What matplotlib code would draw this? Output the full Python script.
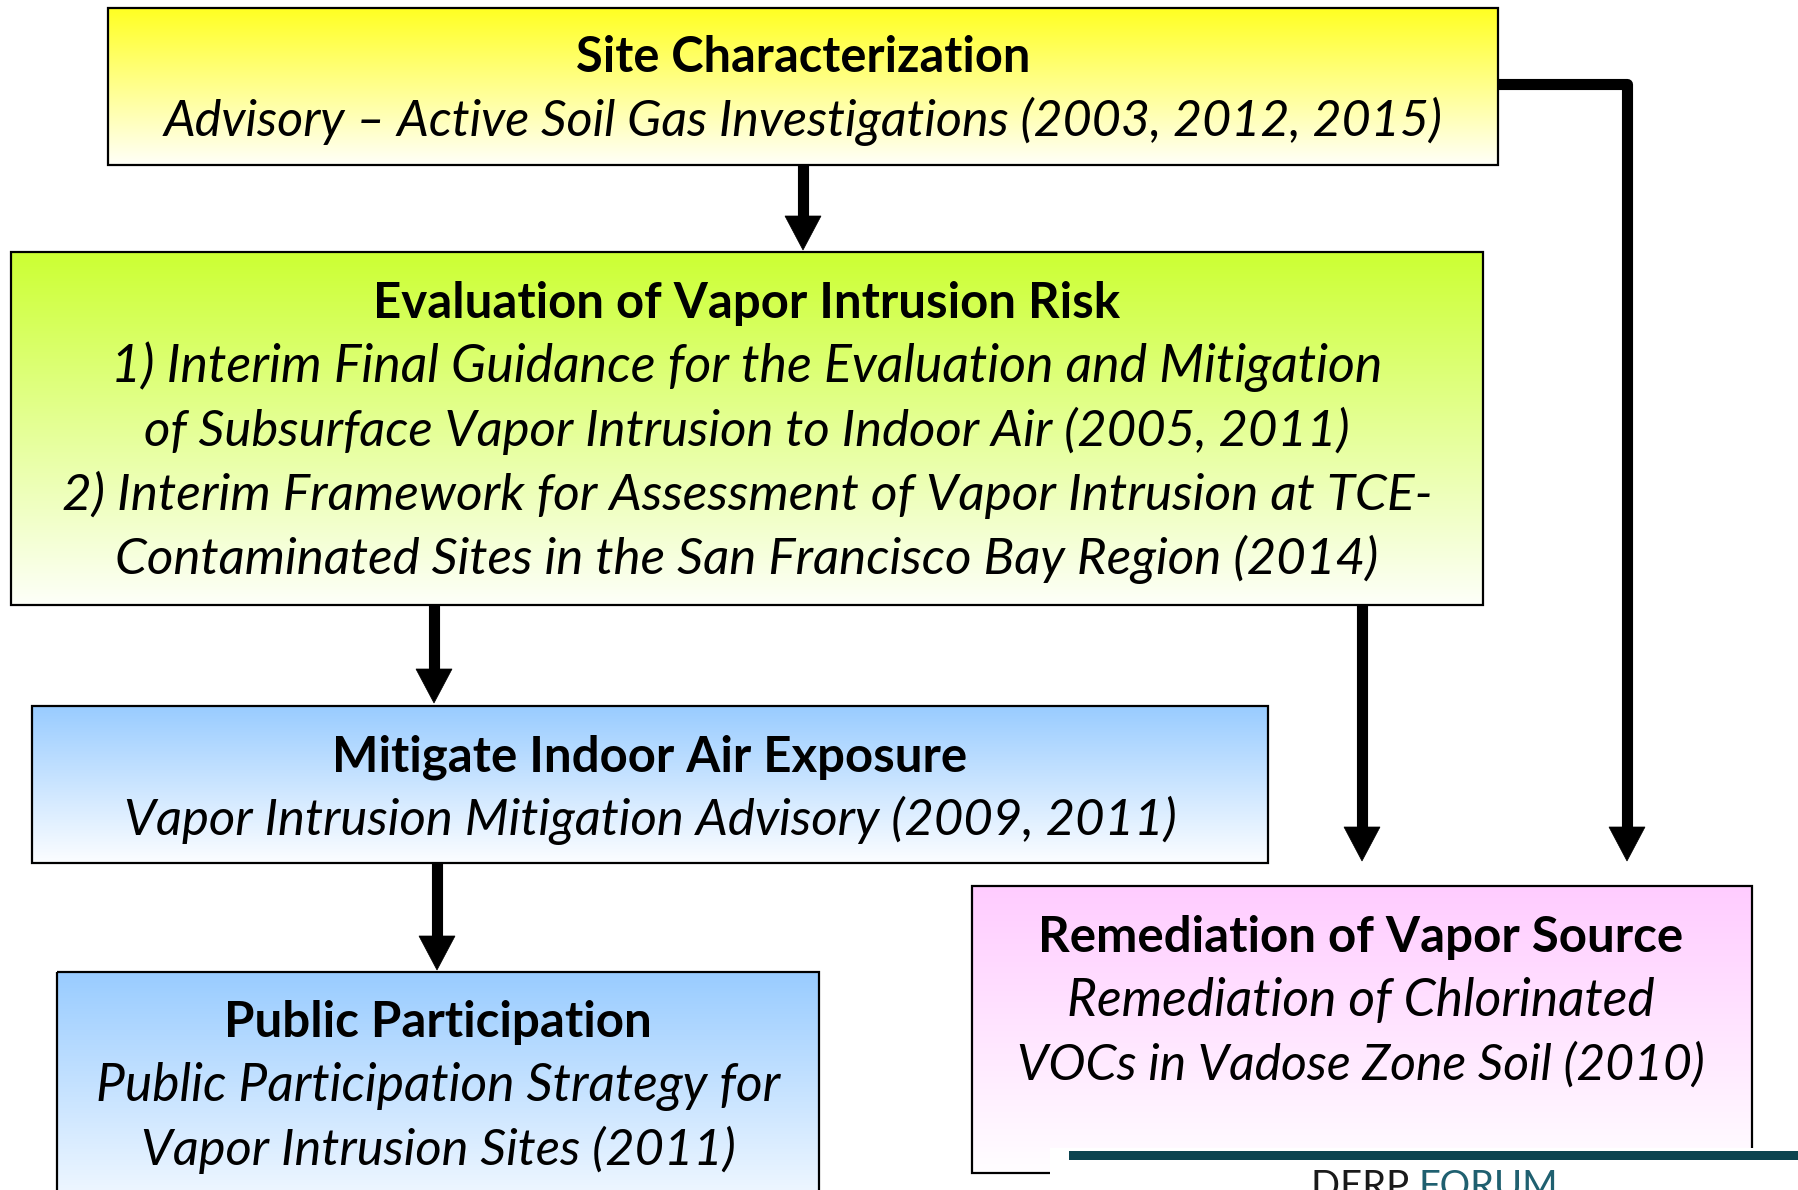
import numpy as np
import matplotlib.pyplot as plt
from matplotlib.patches import Rectangle, Polygon
from matplotlib.colors import to_rgb

W, H = 1799, 1190
FONT = "Lato"

# boxes (pixel layout): left, top, right, bottom
box_left = [108, 11, 32, 57, 972]
box_top = [8, 252, 706, 972, 886]
box_right = [1498, 1483, 1268, 819, 1752]
box_bottom = [165, 605, 863, 1230, 1173]
box_colors = ["#ffff22", "#ccff33", "#99ccff", "#99ccff", "#ffccff"]

titles = ["Site Characterization",
          "Evaluation of Vapor Intrusion Risk",
          "Mitigate Indoor Air Exposure",
          "Public Participation",
          "Remediation of Vapor Source"]
subtitles = [
    ["Advisory – Active Soil Gas Investigations (2003, 2012, 2015)"],
    ["1) Interim Final Guidance for the Evaluation and Mitigation",
     "of Subsurface Vapor Intrusion to Indoor Air (2005, 2011)",
     "2) Interim Framework for Assessment of Vapor Intrusion at TCE-",
     "Contaminated Sites in the San Francisco Bay Region (2014)"],
    ["Vapor Intrusion Mitigation Advisory (2009, 2011)"],
    ["Public Participation Strategy for",
     "Vapor Intrusion Sites (2011)"],
    ["Remediation of Chlorinated",
     "VOCs in Vadose Zone Soil (2010)"],
]
text_cx = [803, 747, 650, 438, 1361]
title_base = [72, 318, 771, 1037, 952]
title_w = [454, 745, 634, 427, 644]
sub_w = [[1279], [1270, 1204, 1369, 1260], [1053], [684, 594], [587, 687]]
line_step = 64

# straight down arrows: x, start y, tip y
arrows = [(803, 165, 250), (434, 605, 703), (1362, 605, 861), (437, 863, 970)]
# elbow arrow path
elbow_x = [1498, 1627, 1627]
elbow_y = [84, 84, 861]

fig = plt.figure(figsize=(W / 100, H / 100), dpi=100)
ax = fig.add_axes([0, 0, 1, 1])
ax.axis("off")

# gradient boxes
t = np.linspace(0, 0.97, 256)[:, None, None]
for l, tp, r, b, c in zip(box_left, box_top, box_right, box_bottom, box_colors):
    rgb = np.array(to_rgb(c))[None, None, :]
    grad = rgb * (1 - t) + t
    ax.imshow(grad, extent=(l, r, b, tp), origin="upper", aspect="auto",
              interpolation="bilinear", zorder=1)
    ax.add_patch(Rectangle((l, tp), r - l, b - tp, fill=False,
                           edgecolor="black", lw=1.6, zorder=2))

# arrows
lw_shaft = 8
hw, hl = 36, 34


def head(x, ytip):
    ax.add_patch(Polygon([(x - hw / 2, ytip - hl), (x + hw / 2, ytip - hl), (x, ytip)],
                         closed=True, facecolor="black", edgecolor="black", lw=0.5, zorder=3))


for x, y0, y1 in arrows:
    ax.plot([x, x], [y0, y1 - hl + 2], color="black", lw=lw_shaft,
            solid_capstyle="butt", zorder=3)
    head(x, y1)

ex = list(elbow_x)
ey = list(elbow_y)
ey[-1] = ey[-1] - hl + 2
ax.plot(ex, ey, color="black", lw=lw_shaft, solid_capstyle="butt",
        solid_joinstyle="round", zorder=3)
head(elbow_x[-1], elbow_y[-1])

ax.set_xlim(0, W)
ax.set_ylim(H, 0)

# text, sized to the reference widths
renderer = fig.canvas.get_renderer()


def fit_text(x, y, s, width, **kw):
    txt = ax.text(x, y, s, ha="center", va="baseline", fontsize=30,
                  family=FONT, zorder=4, **kw)
    w = txt.get_window_extent(renderer).width
    txt.set_fontsize(30 * width / w)
    return txt


for i in range(len(titles)):
    fit_text(text_cx[i], title_base[i], titles[i], title_w[i], fontweight="bold")
    for j, s in enumerate(subtitles[i]):
        fit_text(text_cx[i], title_base[i] + line_step * (j + 1), s, sub_w[i][j],
                 fontstyle="italic")

# footer of the slide (cut off at the bottom edge, as in the source slide)
ax.add_patch(Rectangle((1050, 1148), W - 1050, H - 1148, facecolor="white",
                       edgecolor="none", zorder=5))
ax.add_patch(Rectangle((1069, 1151), W - 1069, 9, facecolor="#0c4450",
                       edgecolor="none", zorder=6))
d = ax.text(1311, 1198, "DERP ", ha="left", va="baseline", fontsize=27.5,
            family=FONT, color="#1a1a1a", zorder=6)
dw = d.get_window_extent(renderer).width
ax.text(1311 + dw, 1198, "FORUM", ha="left", va="baseline", fontsize=27.5,
        family=FONT, color="#1f6070", zorder=6)

fig.savefig("out.png", dpi=100)
